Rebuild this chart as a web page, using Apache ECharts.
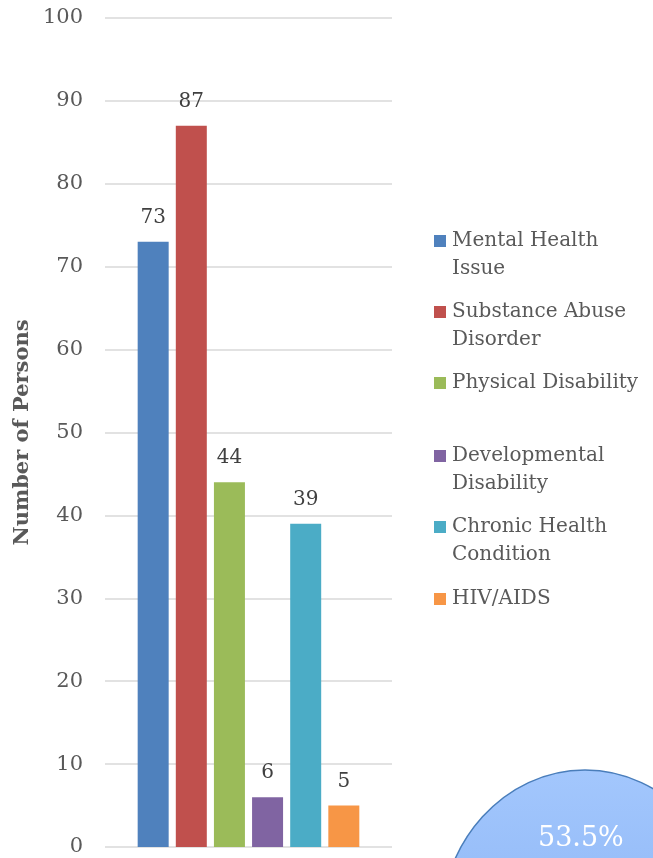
<!DOCTYPE html>
<html><head><meta charset="utf-8">
<script src="https://cdn.jsdelivr.net/npm/echarts@6/dist/echarts.min.js"></script>
<style>html,body{margin:0;padding:0;background:#fff}#c{width:653px;height:858px}</style>
</head><body><div id="c"></div>
<script>
const categories = ['Conditions'];
const seriesNames = ['Mental Health Issue','Substance Abuse Disorder','Physical Disability','Developmental Disability','Chronic Health Condition','HIV/AIDS'];
const legendLabels = ['Mental Health\nIssue','Substance Abuse\nDisorder','Physical Disability','Developmental\nDisability','Chronic Health\nCondition','HIV/AIDS'];
const values = [73, 87, 44, 6, 39, 5];
const colors = ['#4f81bd','#c0504d','#9bbb59','#8064a2','#4bacc6','#f79646'];
const legendRowCenters = [241, 312, 383, 456, 527, 599];
const yTicks = {min: 0, max: 100, interval: 10};
const pieLabel = '53.5%';

const FONT = 'DejaVu Serif';
const LH = 28;
const chart = echarts.init(document.getElementById('c'));
const series = seriesNames.map((n, i) => ({
  name: n, type: 'bar', data: [values[i]], barWidth: 31, barGap: '23%',
  itemStyle: {color: colors[i]},
  label: {show: true, position: 'top', distance: 14, color: '#404040', fontFamily: FONT, fontSize: 20}
}));
const legends = seriesNames.map((n, i) => {
  const multi = legendLabels[i].indexOf('\n') >= 0;
  const txt = multi ? '\n' + legendLabels[i] : legendLabels[i];
  const nLines = txt.split('\n').length;
  return {
    data: [n], orient: 'vertical', left: 434, top: legendRowCenters[i] - LH * nLines / 2, padding: 0,
    itemWidth: 12, itemHeight: 12, itemGap: 0, icon: 'rect',
    formatter: () => txt,
    textStyle: {color: '#595959', fontFamily: FONT, fontSize: 20, lineHeight: LH, padding: [0, 0, 0, 1]}
  };
});
chart.setOption({
  animation: false,
  textStyle: {fontFamily: FONT},
  grid: {left: 105, right: 261, top: 18, bottom: 11},
  xAxis: {type: 'category', data: categories, axisLine: {show: false}, axisTick: {show: false}, axisLabel: {show: false}},
  yAxis: {type: 'value', min: yTicks.min, max: yTicks.max, interval: yTicks.interval,
    name: 'Number of Persons', nameLocation: 'middle', nameGap: 72,
    nameTextStyle: {color: '#595959', fontFamily: FONT, fontSize: 21, fontWeight: 'bold'},
    axisLine: {show: false}, axisTick: {show: false},
    axisLabel: {color: '#595959', fontFamily: FONT, fontSize: 21, margin: 22},
    splitLine: {lineStyle: {color: '#d9d9d9', width: 1.5}}},
  legend: legends,
  series: series,
  graphic: [
    {type: 'ellipse', shape: {cx: 585, cy: 930, rx: 145, ry: 160},
     style: {fill: new echarts.graphic.LinearGradient(0, 0, 0, 1, [{offset: 0, color: '#a3c7fd'}, {offset: 1, color: '#7eaaf0'}]), stroke: '#4a7ebb', lineWidth: 1.5}},
    {type: 'text', left: 538, top: 825, style: {text: pieLabel, fill: '#ffffff', font: '27px "DejaVu Serif"'}}
  ]
});
</script></body></html>
